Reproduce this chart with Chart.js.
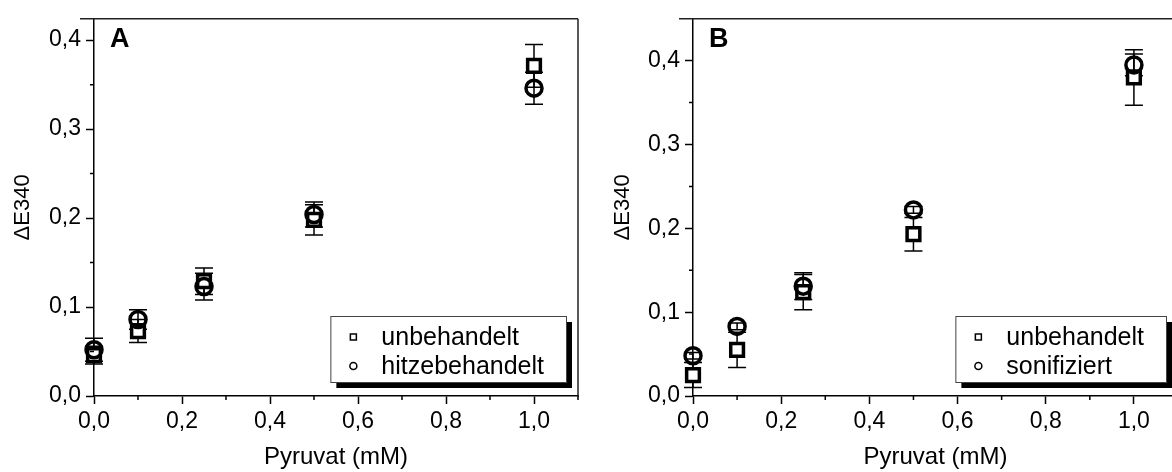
<!DOCTYPE html>
<html>
<head>
<meta charset="utf-8">
<script src="https://cdn.jsdelivr.net/npm/chart.js@4.4.1/dist/chart.umd.min.js"></script>
<style>
  html, body { margin: 0; padding: 0; background: #fff; overflow: hidden; width: 1172px; height: 472px; }
  canvas { position: absolute; top: 0; }
  #chartA { left: 0; }
  #chartB { left: 600px; }
</style>
</head>
<body>
<canvas id="chartA" width="600" height="472"></canvas>
<canvas id="chartB" width="600" height="472"></canvas>
<script>
// Werte
const pyruvat = [0, 0.1, 0.25, 0.5, 1.0];

const aUnbehandelt = [0.046, 0.073, 0.129, 0.198, 0.371];
const aUnbehandeltErr = [0.010, 0.013, 0.015, 0.017, 0.024];
const aHitze = [0.052, 0.086, 0.123, 0.204, 0.346];
const aHitzeErr = [0.013, 0.011, 0.015, 0.014, 0.018];

const bUnbehandelt = [0.025, 0.055, 0.124, 0.193, 0.380];
const bUnbehandeltErr = [0.015, 0.021, 0.021, 0.020, 0.033];
const bSonifiziert = [0.048, 0.083, 0.131, 0.222, 0.395];
const bSonifiziertErr = [0.004, 0.004, 0.016, 0.004, 0.013];

const xTicks = [0, 0.2, 0.4, 0.6, 0.8, 1.0];
const xMinorTicks = [0.1, 0.3, 0.5, 0.7, 0.9, 1.1];
const yTicks = [0, 0.1, 0.2, 0.3, 0.4];
const yMinorTicks = [0.05, 0.15, 0.25, 0.35];

const FONT = '"Liberation Sans", Arial, sans-serif';

function toPoints(xs, ys) {
    return xs.map((x, i) => ({ x: x, y: ys[i] }));
}

function fmt(v) {
    return v.toFixed(1).replace('.', ',');
}

// Fehlerbalken
const errorBarPlugin = {
    id: 'errorBars',
    beforeDatasetsDraw(chart) {
        const ctx = chart.ctx;
        const xs = chart.scales.x, ys = chart.scales.y;
        ctx.save();
        ctx.strokeStyle = '#000';
        ctx.lineWidth = 1.5;
        chart.data.datasets.forEach(ds => {
            ds.data.forEach((p, i) => {
                const e = ds.errors[i];
                const px = xs.getPixelForValue(p.x);
                const top = ys.getPixelForValue(p.y + e);
                const bot = ys.getPixelForValue(p.y - e);
                ctx.beginPath();
                ctx.moveTo(px, top); ctx.lineTo(px, bot);
                ctx.moveTo(px - 9, top); ctx.lineTo(px + 9, top);
                ctx.moveTo(px - 9, bot); ctx.lineTo(px + 9, bot);
                ctx.stroke();
            });
        });
        ctx.restore();
    }
};

// Rahmen, Nebenstriche, Buchstabe und Legende
const framePlugin = {
    id: 'frame',
    afterDraw(chart, args, opts) {
        const ctx = chart.ctx;
        const a = chart.chartArea;
        const xs = chart.scales.x, ys = chart.scales.y;
        ctx.save();
        ctx.strokeStyle = '#222';
        ctx.lineWidth = 1.5;
        ctx.beginPath();
        ctx.moveTo(a.left - 14, a.top); ctx.lineTo(a.right, a.top);
        ctx.moveTo(a.right, a.top); ctx.lineTo(a.right, a.bottom);
        ctx.stroke();

        ctx.strokeStyle = '#000';
        ctx.beginPath();
        yMinorTicks.forEach(v => {
            const py = ys.getPixelForValue(v);
            ctx.moveTo(a.left - 4, py); ctx.lineTo(a.left, py);
        });
        xMinorTicks.forEach(v => {
            const px = xs.getPixelForValue(v);
            ctx.moveTo(px, a.bottom); ctx.lineTo(px, a.bottom + 4);
        });
        ctx.stroke();

        ctx.fillStyle = '#000';
        ctx.font = 'bold 27px ' + FONT;
        ctx.textBaseline = 'middle';
        ctx.fillText(opts.label, a.left + 16, 40);

        const items = opts.legend;
        ctx.font = '25px ' + FONT;
        const tw = Math.max(...items.map(it => ctx.measureText(it.text).width));
        const w = 51 + tw + 22, h = 66;
        const bx = a.right - 12 - w, by = a.bottom - 14 - h;
        ctx.fillStyle = '#000';
        ctx.fillRect(bx + 6, by + 6, w, h);
        ctx.fillStyle = '#fff';
        ctx.fillRect(bx, by, w, h);
        ctx.strokeStyle = '#444';
        ctx.lineWidth = 1;
        ctx.strokeRect(bx + 0.5, by + 0.5, w, h);

        items.forEach((it, i) => {
            const cy = by + 21 + i * 29;
            const mx = bx + 23;
            ctx.strokeStyle = '#000';
            ctx.lineWidth = 1.5;
            ctx.beginPath();
            if (it.style === 'rect') {
                ctx.rect(mx - 3, cy - 3, 6, 6);
            } else {
                ctx.arc(mx, cy, 3.5, 0, Math.PI * 2);
            }
            ctx.stroke();
            ctx.fillStyle = '#000';
            ctx.fillText(it.text, bx + 51, cy + 1);
        });
        ctx.restore();
    }
};

function makePanel(id, cfg) {
    new Chart(document.getElementById(id), {
        type: 'scatter',
        data: {
            datasets: [{
                label: cfg.names[0],
                data: toPoints(pyruvat, cfg.sq),
                errors: cfg.sqErr,
                pointStyle: 'rect',
                pointRadius: 9,
                pointBorderWidth: 3.5,
                pointBorderColor: '#000',
                pointBackgroundColor: '#fff',
                order: 1,
                clip: false
            }, {
                label: cfg.names[1],
                data: toPoints(pyruvat, cfg.ci),
                errors: cfg.ciErr,
                pointStyle: 'circle',
                pointRadius: 8,
                pointBorderWidth: 3.5,
                pointBorderColor: '#000',
                pointBackgroundColor: 'rgba(255,255,255,0)',
                order: 0,
                clip: false
            }]
        },
        options: {
            responsive: false,
            animation: false,
            layout: { padding: { left: 0, top: 7, right: 22, bottom: 0 } },
            plugins: {
                legend: { display: false },
                tooltip: { enabled: false },
                frame: {
                    label: cfg.label,
                    legend: [
                        { text: cfg.names[0], style: 'rect' },
                        { text: cfg.names[1], style: 'circle' }
                    ]
                }
            },
            scales: {
                x: {
                    type: 'linear',
                    min: 0,
                    max: 1.1,
                    afterBuildTicks: s => { s.ticks = xTicks.map(v => ({ value: v })); },
                    afterFit: s => { s.height = 76; },
                    grid: { drawOnChartArea: false, tickLength: 8, tickWidth: 1.5, tickColor: '#000' },
                    border: { color: '#000', width: 1.5 },
                    ticks: {
                        color: '#000',
                        padding: 4,
                        maxRotation: 0,
                        font: { family: FONT, size: 23 },
                        callback: v => fmt(v)
                    },
                    title: {
                        display: true,
                        text: 'Pyruvat (mM)',
                        color: '#000',
                        padding: { top: 0, bottom: 0 },
                        font: { family: FONT, size: 24 }
                    }
                },
                y: {
                    type: 'linear',
                    min: 0,
                    max: cfg.yMax,
                    afterBuildTicks: s => { s.ticks = yTicks.map(v => ({ value: v })); },
                    afterFit: s => { s.width = cfg.yWidth; },
                    grid: { drawOnChartArea: false, tickLength: 8, tickWidth: 1.5, tickColor: '#000' },
                    border: { color: '#000', width: 1.5 },
                    ticks: {
                        color: '#000',
                        padding: 5,
                        font: { family: FONT, size: 23 },
                        callback: v => fmt(v)
                    },
                    title: {
                        display: true,
                        text: 'ΔE340',
                        color: '#000',
                        padding: { top: 10, bottom: 10 },
                        font: { family: FONT, size: 22 }
                    }
                }
            }
        },
        plugins: [errorBarPlugin, framePlugin]
    });
}

makePanel('chartA', {
    label: 'A',
    names: ['unbehandelt', 'hitzebehandelt'],
    sq: aUnbehandelt, sqErr: aUnbehandeltErr,
    ci: aHitze, ciErr: aHitzeErr,
    yMax: 0.424,
    yWidth: 94
});

makePanel('chartB', {
    label: 'B',
    names: ['unbehandelt', 'sonifiziert'],
    sq: bUnbehandelt, sqErr: bUnbehandeltErr,
    ci: bSonifiziert, ciErr: bSonifiziertErr,
    yMax: 0.45,
    yWidth: 93
});
</script>
</body>
</html>
